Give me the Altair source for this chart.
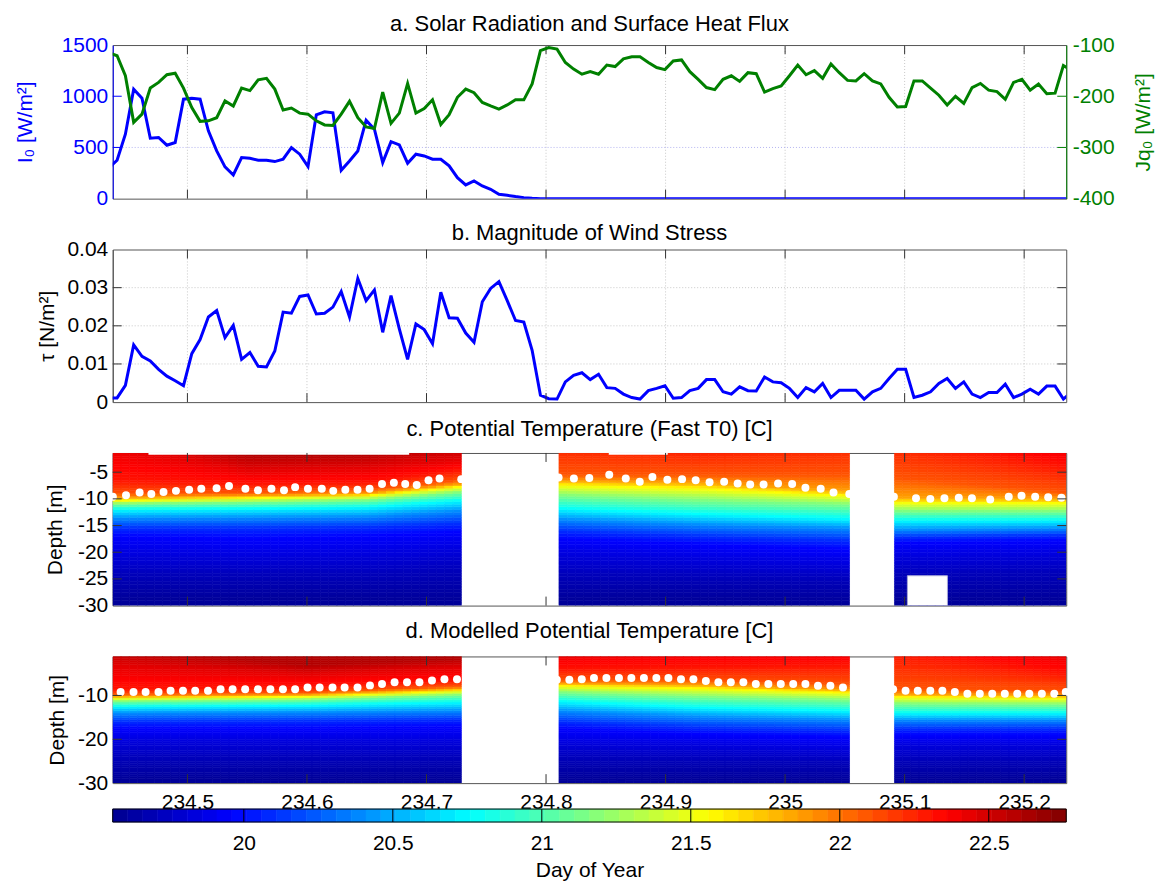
import altair as alt
import numpy as np
import pandas as pd

FONT = "Liberation Sans"
BLUE = "#0000ff"
GREEN = "#008000"
TICK = "#333333"
W = 956
H_A, H_B, H_C, H_D = 154, 153, 153, 127
TL = 9

# ---------------- data ----------------
X_DOMAIN = [234.4375, 235.2352]
DAY_TICKS = [234.5, 234.6, 234.7, 234.8, 234.9, 235.0, 235.1, 235.2]

MET_T_FIRST = 234.4342          # first 10-minute sample (just left of the frame)
MET_STEP = 1.0 / 144.0

I0 = [300, 375, 629, 1069, 981, 590, 597, 522, 548, 971, 981, 971, 662, 466, 310, 231,
      401, 394, 375, 375, 362, 385, 499, 434, 313, 818, 848, 838, 277, 368, 466, 766,
      678, 352, 557, 525, 346, 434, 417, 385, 385, 320, 205, 134, 173, 124, 91, 42,
      33, 20, 10, 3,
      0, 0, 0, 0, 0, 0, 0, 0, 0, 0, 0, 0, 0, 0, 0, 0, 0, 0, 0, 0, 0, 0,
      0, 0, 0, 0, 0, 0, 0, 0, 0, 0, 0, 0, 0, 0, 0, 0, 0, 0, 0, 0, 0, 0,
      0, 0, 0, 0, 0, 0, 0, 0, 0, 0, 0, 0, 0, 0, 0, 0, 0, 0, 0, 0, 0]

JQ0 = [-115, -121, -160, -251, -235, -184, -173, -158, -155, -184, -222, -249, -248, -242,
       -209, -219, -184, -189, -168, -165, -186, -227, -223, -233, -235, -248, -256, -257,
       -235, -210, -242, -260, -263, -192, -253, -233, -175, -233, -224, -207, -255, -236,
       -202, -186, -193, -212, -219, -225, -217, -207, -207, -176, -111, -105, -108, -134,
       -147, -157, -152, -157, -139, -142, -127, -123, -123, -134, -144, -148, -131, -129,
       -152, -167, -183, -187, -167, -160, -171, -154, -156, -192, -185, -180, -160, -139,
       -158, -150, -165, -137, -154, -169, -170, -156, -170, -176, -202, -221, -220, -170,
       -170, -184, -198, -217, -200, -214, -183, -175, -188, -191, -206, -173, -167, -188,
       -176, -195, -194, -140, -150]

TAU = [0.0011, 0.0011, 0.0044, 0.0150, 0.0120, 0.0108, 0.0086, 0.0068, 0.0056, 0.0043,
       0.0127, 0.0164, 0.0223, 0.0240, 0.0169, 0.0201, 0.0112, 0.0130, 0.0094, 0.0092,
       0.0134, 0.0236, 0.0233, 0.0277, 0.0281, 0.0231, 0.0233, 0.0249, 0.0290, 0.0223,
       0.0324, 0.0266, 0.0294, 0.0183, 0.0279, 0.0192, 0.0112, 0.0205, 0.0190, 0.0153,
       0.0288, 0.0221, 0.0220, 0.0181, 0.0157, 0.0263, 0.0298, 0.0316, 0.0266, 0.0214,
       0.0210, 0.0136, 0.0018, 0.0009, 0.0008, 0.0053, 0.0070, 0.0077, 0.0059, 0.0073,
       0.0038, 0.0036, 0.0021, 0.0012, 0.0008, 0.0030, 0.0036, 0.0043, 0.0010, 0.0012,
       0.0030, 0.0036, 0.0059, 0.0059, 0.0027, 0.0021, 0.0040, 0.0030, 0.0029, 0.0066,
       0.0053, 0.0051, 0.0036, 0.0012, 0.0038, 0.0027, 0.0049, 0.0012, 0.0031, 0.0031,
       0.0031, 0.0008, 0.0027, 0.0036, 0.0062, 0.0086, 0.0086, 0.0012, 0.0018, 0.0027,
       0.0049, 0.0062, 0.0036, 0.0053, 0.0021, 0.0012, 0.0025, 0.0025, 0.0047, 0.0012,
       0.0021, 0.0034, 0.0021, 0.0042, 0.0042, 0.0008, 0.0027]

I0_TICKS = [0, 500, 1000, 1500]
JQ_TICKS = [-400, -300, -200, -100]
TAU_TICKS = [0, 0.01, 0.02, 0.03, 0.04]
DEPTH_C_TICKS = [-30, -25, -20, -15, -10, -5]
DEPTH_D_TICKS = [-30, -20, -10]
CBAR_TICKS = [20, 20.5, 21, 21.5, 22, 22.5]

# mixed-layer depth dots
C_DOT_DAY = [234.4376, 234.4486, 234.4600, 234.4698, 234.4800, 234.4904, 234.5014, 234.5116,
             234.5244, 234.5348, 234.5485, 234.5590, 234.5703, 234.5808, 234.5901, 234.6008,
             234.6124, 234.6220, 234.6321, 234.6423, 234.6524, 234.6628, 234.6727, 234.6822,
             234.6918, 234.7017, 234.7109, 234.7291,
             234.8105, 234.8233, 234.8362, 234.8529, 234.8667, 234.8784, 234.8890, 234.9015,
             234.9138, 234.9252, 234.9368, 234.9490, 234.9603, 234.9708, 234.9820, 234.9941,
             235.0059, 235.0170, 235.0298, 235.0405, 235.0537,
             235.0910, 235.1095, 235.1215, 235.1333, 235.1453, 235.1563, 235.1716, 235.1871,
             235.1978, 235.2092, 235.2201, 235.2312]
C_DOT_DEPTH = [-9.6, -9.3, -8.8, -9.1, -8.7, -8.5, -8.3, -8.1, -8.0, -7.6, -8.1, -8.4, -8.1,
               -8.4, -7.8, -8.1, -8.1, -8.5, -8.3, -8.3, -8.1, -7.2, -7.0, -7.2, -7.4, -6.5,
               -6.2, -6.3,
               -6.0, -6.2, -6.1, -5.5, -6.2, -6.8, -5.9, -6.4, -6.3, -6.5, -6.9, -6.8, -7.1,
               -7.3, -7.3, -7.1, -7.2, -7.9, -8.1, -8.8, -9.1,
               -9.6, -9.9, -10.0, -9.9, -9.8, -9.9, -10.1, -9.6, -9.4, -9.6, -9.7, -9.8]

D_DOT_DAY = [234.4441, 234.4549, 234.4650, 234.4758, 234.4859, 234.4963, 234.5065, 234.5172,
             234.5277, 234.5378, 234.5483, 234.5590, 234.5694, 234.5799, 234.5901, 234.6005,
             234.6106, 234.6214, 234.6315, 234.6423, 234.6527, 234.6628, 234.6733, 234.6837,
             234.6941, 234.7046, 234.7150, 234.7255,
             234.8090, 234.8195, 234.8299, 234.8401, 234.8505, 234.8610, 234.8714, 234.8819,
             234.8923, 234.9024, 234.9129, 234.9233, 234.9337, 234.9442, 234.9546, 234.9651,
             234.9755, 234.9860, 234.9964, 235.0068, 235.0170, 235.0275, 235.0379, 235.0484,
             235.0904, 235.1008, 235.1110, 235.1215, 235.1316, 235.1420, 235.1525, 235.1629,
             235.1733, 235.1838, 235.1942, 235.2043, 235.2148, 235.2252, 235.2348]
D_DOT_DEPTH = [-9.2, -9.2, -9.2, -9.2, -8.9, -8.9, -8.9, -8.9, -8.6, -8.6, -8.6, -8.6, -8.6,
               -8.6, -8.6, -8.2, -8.2, -8.2, -8.2, -8.2, -7.7, -7.4, -7.0, -7.0, -7.0, -6.6,
               -6.3, -6.3,
               -6.4, -6.4, -6.3, -6.0, -6.0, -6.0, -6.0, -6.0, -6.0, -6.0, -6.3, -6.3, -6.7,
               -7.0, -7.0, -7.0, -7.4, -7.4, -7.4, -7.4, -7.4, -7.8, -7.8, -8.2,
               -8.6, -8.9, -8.9, -8.9, -8.9, -9.2, -9.6, -9.6, -9.6, -9.6, -9.6, -9.6, -9.6,
               -9.6, -9.2]

# temperature field: depth [m] of each isotherm at anchor times
LEVELS = [22.6, 22.45, 22.3, 22.1, 21.85, 21.56, 21.16, 20.76, 20.4, 20.1, 19.96, 19.85, 19.72, 19.6]

C1_T = [234.4375, 234.55, 234.65, 234.7292]
C1_Z = [[3.0, 0.5, -6.5, -9.0, -9.8, -10.3, -10.9, -12.0, -13.6, -15.5, -17.0, -20.0, -24.0, -29.0],
        [-1.8, -4.5, -7.2, -8.8, -9.4, -9.8, -10.6, -11.8, -13.5, -15.5, -17.5, -20.5, -24.0, -29.0],
        [-1.6, -4.0, -7.0, -8.3, -9.0, -9.4, -10.2, -11.5, -13.3, -15.3, -17.0, -20.0, -24.0, -29.0],
        [1.0, -2.5, -4.5, -6.5, -7.2, -7.7, -8.7, -10.3, -12.2, -14.6, -16.2, -19.0, -23.0, -29.0]]
C2_T = [234.8108, 234.93, 235.0539]
C2_Z = [[6.0, 4.0, 2.0, -5.5, -6.6, -7.4, -9.3, -11.8, -13.8, -16.0, -17.5, -20.0, -24.0, -29.0],
        [5.0, 2.5, 0.0, -5.5, -7.0, -8.0, -10.2, -12.8, -14.8, -17.0, -18.5, -21.0, -24.5, -29.0],
        [6.0, 4.0, 2.0, -5.5, -8.6, -9.4, -11.0, -13.7, -15.5, -17.8, -19.5, -22.0, -25.0, -29.5]]
C3_T = [235.0915, 235.2352]
C3_Z = [[6.0, 4.0, 2.0, -6.0, -9.8, -10.6, -12.2, -14.0, -15.8, -17.2, -18.2, -20.5, -24.0, -29.0],
        [3.0, 0.5, -4.0, -8.8, -10.0, -10.7, -12.3, -14.0, -15.5, -16.8, -17.8, -20.0, -23.5, -29.0]]

D1_T = [234.4375, 234.60, 234.7292]
D1_Z = [[1.0, -3.0, -8.5, -9.7, -10.2, -10.6, -11.3, -12.5, -14.0, -16.0, -17.5, -20.0, -24.0, -29.0],
        [-3.0, -5.0, -8.0, -9.3, -9.8, -10.2, -10.9, -12.2, -13.8, -15.8, -17.5, -20.0, -24.0, -29.0],
        [-1.5, -3.5, -6.5, -7.8, -8.4, -8.9, -9.8, -11.5, -13.5, -15.5, -17.0, -20.0, -24.0, -29.0]]
D2_T = [234.8108, 234.93, 235.0539]
D2_Z = [[3.0, 0.0, -4.0, -6.5, -7.2, -7.8, -9.2, -11.3, -13.5, -16.0, -17.5, -20.5, -24.0, -29.0],
        [3.0, 1.0, -3.5, -6.5, -7.6, -8.3, -10.2, -12.7, -14.8, -17.3, -18.8, -21.0, -24.5, -29.0],
        [3.0, 1.0, -3.0, -7.5, -8.7, -9.4, -11.0, -13.5, -15.5, -18.0, -19.5, -22.0, -25.0, -29.5]]
D3_T = [235.0915, 235.2352]
D3_Z = [[5.0, 3.0, 0.0, -8.5, -9.7, -10.3, -11.8, -14.0, -15.6, -17.6, -19.0, -21.0, -24.5, -29.0],
        [3.0, 0.0, -5.0, -9.0, -10.0, -10.6, -12.0, -14.0, -15.6, -17.5, -19.0, -21.0, -24.5, -29.0]]

# missing data in panel c
C_MISSING_TOP_T0 = [234.4674, 234.8525]
C_MISSING_TOP_T1 = [234.6855, 234.9018]
C_BOX_T = [235.1023, 235.1358]
C_BOX_Z = [-30.0, -24.4]

JET_STOPS = [19.56, 19.96, 20.36, 20.76, 21.16, 21.56, 21.96, 22.36, 22.76]
JET_COLORS = ["#00008f", "#0000ff", "#0080ff", "#00ffff", "#80ff80",
              "#ffff00", "#ff8000", "#ff0000", "#800000"]
CBAR_N = 64

# ---------------- tables ----------------
n = min(len(I0), len(JQ0), len(TAU))
met = pd.DataFrame({"t": [MET_T_FIRST + k * MET_STEP for k in range(n)],
                    "I0": I0[:n], "Jq0": JQ0[:n], "tau": TAU[:n]})


def build_field(segments, ztop):
    rows = []
    z_edges = np.arange(-30.0, ztop + 0.51, 0.5)
    lev = np.array(LEVELS)[::-1]
    for ts, te, at, az in segments:
        az = np.array(az)
        ncol = max(1, int(round((te - ts) * 144)))
        edges = np.linspace(ts, te, ncol + 1)
        for i in range(ncol):
            tc = 0.5 * (edges[i] + edges[i + 1])
            zi = np.array([np.interp(tc, at, az[:, j]) for j in range(len(LEVELS))])[::-1]
            for j in range(len(z_edges) - 1):
                zc = 0.5 * (z_edges[j] + z_edges[j + 1])
                rows.append((round(edges[i], 5), round(edges[i + 1], 5),
                             z_edges[j], z_edges[j + 1], round(float(np.interp(zc, zi, lev)), 3)))
    return pd.DataFrame(rows, columns=["t0", "t1", "z0", "z1", "T"])


field_c = build_field([(C1_T[0], C1_T[-1], C1_T, C1_Z), (C2_T[0], C2_T[-1], C2_T, C2_Z),
                       (C3_T[0], C3_T[-1], C3_T, C3_Z)], -1.0)
field_d = build_field([(D1_T[0], D1_T[-1], D1_T, D1_Z), (D2_T[0], D2_T[-1], D2_T, D2_Z),
                       (D3_T[0], D3_T[-1], D3_T, D3_Z)], -1.0)

cb_edges = np.linspace(JET_STOPS[0], JET_STOPS[-1], CBAR_N + 1)
cbar = pd.DataFrame({"c0": cb_edges[:-1], "c1": cb_edges[1:],
                     "T": 0.5 * (cb_edges[:-1] + cb_edges[1:])})

CSCALE = alt.Scale(domain=JET_STOPS, range=JET_COLORS, interpolate="rgb")


def ttl(text, offset):
    return alt.TitleParams(text=text, frame="group", offset=offset, font=FONT, fontSize=22,
                           fontWeight="normal", color="#000000", anchor="middle")


# ---------------- helpers ----------------
def xq(field, axis=None):
    return alt.X(field, type="quantitative",
                 scale=alt.Scale(domain=X_DOMAIN, nice=False, zero=False), axis=axis)


def vgrid():
    return alt.Chart(pd.DataFrame({"v": DAY_TICKS})).mark_rule(
        color="#c8c8c8", strokeDash=[1, 2], strokeWidth=1).encode(x=xq("v"))


def xticks_in(h, axis=None):
    d = pd.DataFrame({"v": DAY_TICKS})
    top = alt.Chart(d).mark_rule(color=TICK, strokeWidth=1).encode(
        x=xq("v", axis), y=alt.value(0), y2=alt.value(TL))
    bot = alt.Chart(d).mark_rule(color=TICK, strokeWidth=1).encode(
        x=xq("v", axis), y=alt.value(h - TL), y2=alt.value(h))
    return [top, bot]


def yticks_in(vals, scale, axis, color=TICK, left=True, right=True):
    d = pd.DataFrame({"v": vals})
    out = []
    if left:
        out.append(alt.Chart(d).mark_rule(color=color, strokeWidth=1).encode(
            y=alt.Y("v:Q", scale=scale, axis=axis), x=alt.value(0), x2=alt.value(TL)))
    if right:
        out.append(alt.Chart(d).mark_rule(color=color, strokeWidth=1).encode(
            y=alt.Y("v:Q", scale=scale, axis=axis), x=alt.value(W - TL), x2=alt.value(W)))
    return out


# ---------------- panel a ----------------
ysA = alt.Scale(domain=[0, 1500], nice=False, zero=False)
ysJ = alt.Scale(domain=[-400, -100], nice=False, zero=False)
axA = alt.Axis(values=I0_TICKS, format="d", title="I₀ [W/m²]", labelColor=BLUE, titleColor=BLUE,
               domainColor=BLUE, ticks=False, grid=False, labelPadding=5, titlePadding=26)
axJ = alt.Axis(orient="right", values=JQ_TICKS, labelExpr="'' + datum.value", title="Jq₀ [W/m²]",
               labelColor=GREEN, titleColor=GREEN, domainColor=GREEN, ticks=False, grid=False,
               labelPadding=6, titlePadding=18, titleAngle=270, titleBaseline="top")

h500 = alt.Chart(pd.DataFrame({"v": [500]})).mark_rule(
    color="#b4b4f0", strokeDash=[1, 2], strokeWidth=1).encode(y=alt.Y("v:Q", scale=ysA, axis=axA))
blue = alt.Chart(met).mark_line(color=BLUE, strokeWidth=3, clip=True).encode(
    x=xq("t"), y=alt.Y("I0:Q", scale=ysA, axis=axA))
green = alt.Chart(met).mark_line(color=GREEN, strokeWidth=3, clip=True).encode(
    x=xq("t"), y=alt.Y("Jq0:Q", scale=ysJ, axis=axJ))

groupA = alt.layer(vgrid(), h500, blue, *xticks_in(H_A),
                   *yticks_in([500, 1000], ysA, axA, color=BLUE, right=False))
groupJ = alt.layer(green, *yticks_in([-300, -200], ysJ, axJ, color=GREEN, left=False))
panel_a = alt.layer(groupA, groupJ).resolve_scale(y="independent").properties(
    width=W, height=H_A, title=ttl("a. Solar Radiation and Surface Heat Flux", -2))

# ---------------- panel b ----------------
ysB = alt.Scale(domain=[0, 0.04], nice=False, zero=False)
axB = alt.Axis(values=TAU_TICKS, labelExpr="'' + datum.value", title="τ [N/m²]", ticks=False,
               grid=False, labelPadding=5, titlePadding=10, domainColor="#555555")
hgridB = alt.Chart(pd.DataFrame({"v": [0.01, 0.02, 0.03]})).mark_rule(
    color="#c8c8c8", strokeDash=[1, 2], strokeWidth=1).encode(y=alt.Y("v:Q", scale=ysB, axis=axB))
tau_line = alt.Chart(met).mark_line(color=BLUE, strokeWidth=3, clip=True).encode(
    x=xq("t"), y=alt.Y("tau:Q", scale=ysB, axis=axB))
panel_b = alt.layer(vgrid(), hgridB, tau_line, *xticks_in(H_B),
                    *yticks_in([0.01, 0.02, 0.03], ysB, axB)).properties(
    width=W, height=H_B, title=ttl("b. Magnitude of Wind Stress", -6))


# ---------------- panels c, d ----------------
def heat(df, yscale, yaxis):
    return alt.Chart(df).mark_rect(clip=True, strokeWidth=0.6).encode(
        x=xq("t0"), x2="t1",
        y=alt.Y("z0:Q", scale=yscale, axis=yaxis), y2="z1",
        color=alt.Color("T:Q", scale=CSCALE, legend=None),
        stroke=alt.Stroke("T:Q", scale=CSCALE, legend=None))


def dots(days, depths, yscale, yaxis):
    d = pd.DataFrame({"t": days[:len(depths)], "z": depths[:len(days)]})
    return alt.Chart(d).mark_circle(size=64, color="white", opacity=1).encode(
        x=xq("t"), y=alt.Y("z:Q", scale=yscale, axis=yaxis))


ysC = alt.Scale(domain=[-30, -1.4], nice=False, zero=False)
axC = alt.Axis(values=DEPTH_C_TICKS, labelExpr="'' + datum.value", title="Depth [m]", ticks=False,
               grid=False, labelPadding=5, titlePadding=12, domainColor="#777777")
miss_top = pd.DataFrame({"t0": C_MISSING_TOP_T0, "t1": C_MISSING_TOP_T1,
                         "z0": [-1.75] * len(C_MISSING_TOP_T0), "z1": [-1.0] * len(C_MISSING_TOP_T0)})
miss_box = pd.DataFrame({"t0": [C_BOX_T[0]], "t1": [C_BOX_T[1]], "z0": [C_BOX_Z[0]], "z1": [C_BOX_Z[1]]})
missC = alt.Chart(miss_top).mark_rect(color="white", clip=True).encode(
    x=xq("t0"), x2="t1", y=alt.Y("z0:Q", scale=ysC, axis=axC), y2="z1")
boxC = alt.Chart(miss_box).mark_rect(color="white", stroke="#a8a8d8", strokeWidth=1, clip=True).encode(
    x=xq("t0"), x2="t1", y=alt.Y("z0:Q", scale=ysC, axis=axC), y2="z1")
panel_c = alt.layer(heat(field_c, ysC, axC), missC, boxC, dots(C_DOT_DAY, C_DOT_DEPTH, ysC, axC),
                    *xticks_in(H_C), *yticks_in([-25, -20, -15, -10, -5], ysC, axC)).properties(
    width=W, height=H_C, title=ttl("c. Potential Temperature (Fast T0) [C]", 12))

ysD = alt.Scale(domain=[-30, -1.1], nice=False, zero=False)
axD = alt.Axis(values=DEPTH_D_TICKS, labelExpr="'' + datum.value", title="Depth [m]", ticks=False,
               grid=False, labelPadding=5, titlePadding=10, domainColor="#777777")
axDay = alt.Axis(values=DAY_TICKS, format="~g", ticks=False, domain=False, grid=False,
                 labelPadding=8, labelOverlap=False, labelFlush=False, title=None)


def heat_d():
    return alt.Chart(field_d).mark_rect(clip=True, strokeWidth=0.6).encode(
        x=xq("t0", axDay), x2="t1",
        y=alt.Y("z0:Q", scale=ysD, axis=axD), y2="z1",
        color=alt.Color("T:Q", scale=CSCALE, legend=None),
        stroke=alt.Stroke("T:Q", scale=CSCALE, legend=None))


dd = pd.DataFrame({"t": D_DOT_DAY[:len(D_DOT_DEPTH)], "z": D_DOT_DEPTH[:len(D_DOT_DAY)]})
dots_d = alt.Chart(dd).mark_circle(size=64, color="white", opacity=1).encode(
    x=xq("t", axDay), y=alt.Y("z:Q", scale=ysD, axis=axD))
inner_d = alt.layer(heat_d(), dots_d, *xticks_in(H_D, axDay),
                    *yticks_in([-20, -10], ysD, axD))

CB_Y0, CB_Y1 = 153, 166
csX = alt.Scale(domain=[JET_STOPS[0], JET_STOPS[-1]], nice=False, zero=False)
axCB = alt.Axis(orient="bottom", offset=CB_Y1 - H_D, values=CBAR_TICKS, format="~g", domain=False,
                ticks=False, grid=False, labelPadding=11, labelOverlap=False, labelFlush=False,
                title="Day of Year", titlePadding=6)
cb_rects = alt.Chart(cbar).mark_rect(strokeWidth=0.6).encode(
    x=alt.X("c0:Q", scale=csX, axis=axCB), x2="c1",
    y=alt.value(CB_Y0), y2=alt.value(CB_Y1),
    color=alt.Color("T:Q", scale=CSCALE, legend=None),
    stroke=alt.Stroke("T:Q", scale=CSCALE, legend=None))
cb_ticks = alt.Chart(pd.DataFrame({"v": CBAR_TICKS})).mark_rule(color="black", strokeWidth=1).encode(
    x=alt.X("v:Q", scale=csX, axis=axCB), y=alt.value(CB_Y0), y2=alt.value(CB_Y1))
cb_frame = alt.Chart(pd.DataFrame({"a": [JET_STOPS[0]], "b": [JET_STOPS[-1]]})).mark_rect(
    fillOpacity=0, stroke="black", strokeWidth=1).encode(
    x=alt.X("a:Q", scale=csX, axis=axCB), x2="b", y=alt.value(CB_Y0), y2=alt.value(CB_Y1))
cb_layer = alt.layer(cb_rects, cb_ticks, cb_frame)

panel_d = alt.layer(inner_d, cb_layer).resolve_scale(x="independent").properties(
    width=W, height=H_D, title=ttl("d. Modelled Potential Temperature [C]", 13))

chart = alt.vconcat(panel_a, panel_b, panel_c, panel_d, spacing=51, bounds="flush").configure_view(
    stroke="#555555", strokeWidth=1
).configure_axis(
    labelFont=FONT, titleFont=FONT, labelFontSize=21, titleFontSize=21,
    titleFontWeight="normal", labelColor="#000000", titleColor="#000000"
).properties(background="white", padding={"left": 5, "top": 3, "right": 5, "bottom": 2})

chart.save("out.html", embed_options={"renderer": "svg", "actions": False})
